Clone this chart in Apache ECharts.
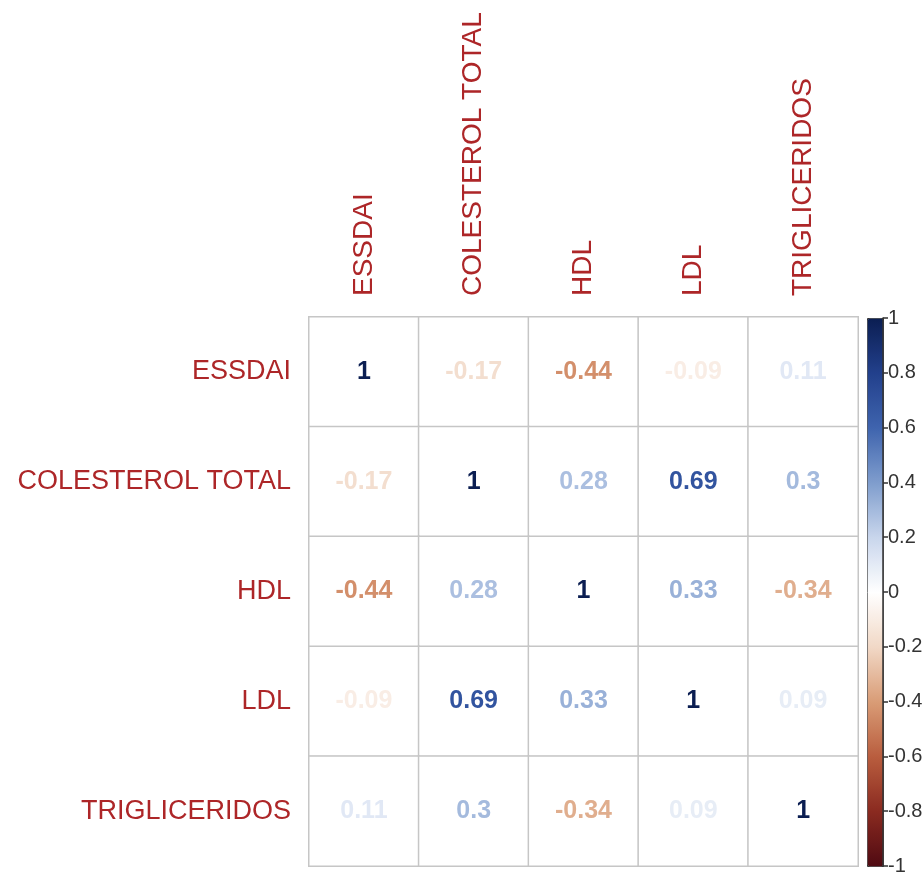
<!DOCTYPE html>
<html>
<head>
<meta charset="utf-8">
<script src="https://cdn.jsdelivr.net/npm/echarts@6/dist/echarts.min.js"></script>
<style>
  html, body { margin: 0; padding: 0; background: #fff; }
  #chart { width: 922px; height: 877px; }
</style>
</head>
<body>
<div id="chart"></div>
<script>
const variables = ['ESSDAI', 'COLESTEROL TOTAL', 'HDL', 'LDL', 'TRIGLICERIDOS']

// correlation rows (same order as variables)
const essdai = [1, -0.17, -0.44, -0.09, 0.11]
const colesterol = [-0.17, 1, 0.28, 0.69, 0.3]
const hdl = [-0.44, 0.28, 1, 0.33, -0.34]
const ldl = [-0.09, 0.69, 0.33, 1, 0.09]
const trigliceridos = [0.11, 0.3, -0.34, 0.09, 1]

const colorbarTicks = [-1, -0.8, -0.6, -0.4, -0.2, 0, 0.2, 0.4, 0.6, 0.8, 1]

// palette from -1 (red) to 1 (blue)
const palette = ['#4f0a12', '#8a2a20', '#b95d3e', '#d99c76', '#f1d8c6', '#ffffff',
  '#c9d6ec', '#7f9dcd', '#3f64ae', '#22408c', '#0b1e52']

const hexToRgb = h => [1, 3, 5].map(i => parseInt(h.slice(i, i + 2), 16))

// value -> colour, linear between palette stops
const colorFor = v => {
  const t = (v + 1) / 2 * (palette.length - 1)
  const i = Math.min(Math.floor(t), palette.length - 2)
  const f = t - i
  const a = hexToRgb(palette[i])
  const b = hexToRgb(palette[i + 1])
  const c = a.map((x, k) => Math.round(x + (b[k] - x) * f))
  return `rgb(${c[0]},${c[1]},${c[2]})`
}

const rows = [essdai, colesterol, hdl, ldl, trigliceridos]
const cells = []
rows.forEach((row, r) => {
  row.forEach((v, c) => {
    cells.push({ value: [c, r, v], label: { color: colorFor(v) } })
  })
})

const font = '"Liberation Sans", Arial, sans-serif'
const labelRed = '#ad2628'

const chart = echarts.init(document.getElementById('chart'))
chart.setOption({
  backgroundColor: '#fff',
  animation: false,
  grid: [
    { left: 309, top: 317, width: 549, height: 549, outerBoundsMode: 'none' },
    { left: 867, top: 318, width: 16, height: 548, outerBoundsMode: 'none' }
  ],
  xAxis: [
    {
      type: 'category', data: variables, position: 'top', gridIndex: 0,
      axisLine: { show: false }, axisTick: { show: false },
      axisLabel: { rotate: -90, margin: 21, fontSize: 28, color: labelRed, fontFamily: font }
    },
    { type: 'value', gridIndex: 1, show: false, min: 0, max: 1 }
  ],
  yAxis: [
    {
      type: 'category', data: variables, inverse: true, gridIndex: 0,
      axisLine: { show: false }, axisTick: { show: false },
      axisLabel: { margin: 18, fontSize: 27, color: labelRed, fontFamily: font }
    },
    {
      type: 'value', gridIndex: 1, position: 'right', min: -1, max: 1, interval: 0.2,
      z: 10,
      axisLine: { show: true, onZero: false, lineStyle: { color: '#333', width: 1.5 } },
      axisTick: { show: true, inside: false, length: 5, lineStyle: { color: '#333', width: 1.5 } },
      splitLine: { show: false },
      axisLabel: {
        margin: 5, fontSize: 20, color: '#333', fontFamily: font,
        formatter: v => colorbarTicks.includes(Math.round(v * 10) / 10) ? String(Math.round(v * 10) / 10) : ''
      }
    }
  ],
  visualMap: {
    type: 'continuous', min: -1, max: 1, seriesIndex: 1,
    left: 867, top: 318, itemWidth: 16, itemHeight: 548,
    calculable: false, hoverLink: false, padding: 0,
    borderColor: '#333', borderWidth: 1,
    inRange: { color: palette }
  },
  series: [
    {
      type: 'heatmap', xAxisIndex: 0, yAxisIndex: 0,
      data: cells,
      itemStyle: { color: '#fff', borderColor: '#c6c6c6', borderWidth: 1.5 },
      label: {
        show: true, fontSize: 25, fontWeight: 'bold', fontFamily: font,
        formatter: p => String(p.value[2])
      },
      emphasis: { disabled: true }
    },
    { type: 'scatter', xAxisIndex: 1, yAxisIndex: 1, data: [] }
  ]
})
</script>
</body>
</html>
